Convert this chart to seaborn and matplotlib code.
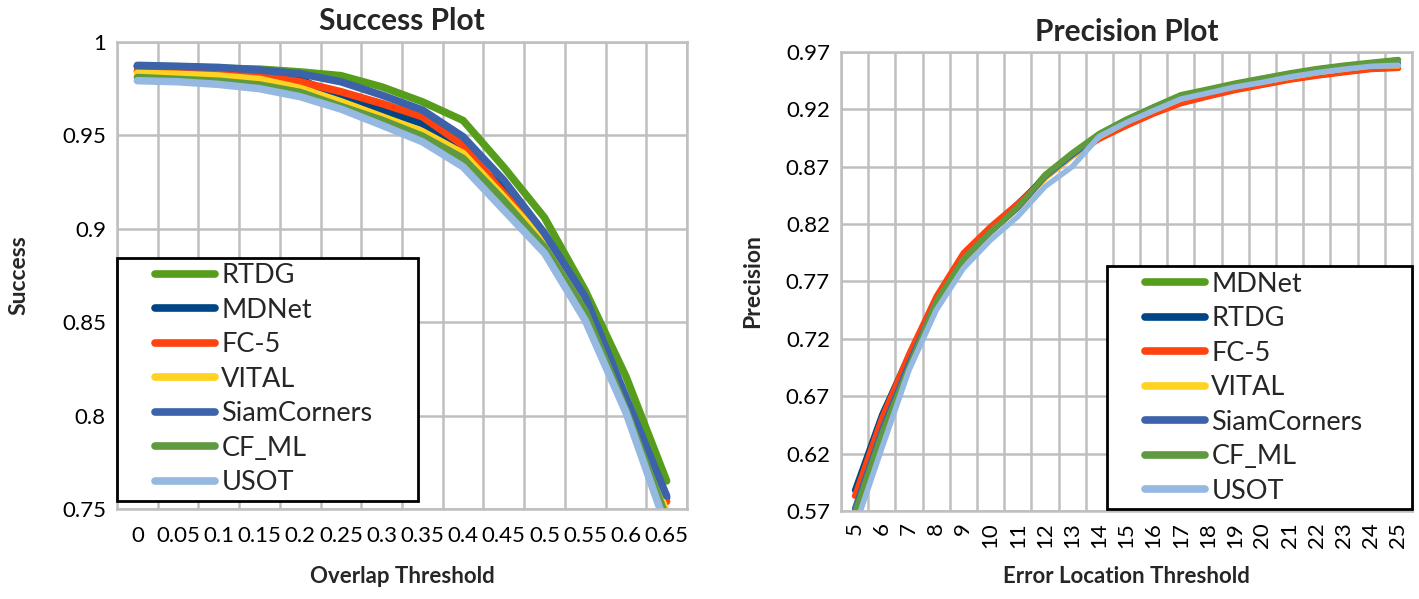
import numpy as np
import pandas as pd
import matplotlib
matplotlib.use('Agg')
import matplotlib.pyplot as plt
from matplotlib.lines import Line2D
from matplotlib.legend_handler import HandlerLine2D
import seaborn as sns

sns.set_theme(style='white')
plt.rcParams['font.family'] = ['Lato', 'DejaVu Sans']

# ---- Success plot data (overlap threshold) ----
overlap = ['0', '0.05', '0.1', '0.15', '0.2', '0.25', '0.3', '0.35', '0.4', '0.45', '0.5', '0.55', '0.6', '0.65']
succ_rtdg = [0.987, 0.9868, 0.986, 0.9855, 0.984, 0.982, 0.976, 0.968, 0.958, 0.933, 0.906, 0.867, 0.821, 0.765]
succ_mdnet = [0.987, 0.9865, 0.986, 0.984, 0.980, 0.970, 0.9636, 0.9564, 0.942, 0.921, 0.894, 0.860, 0.808, 0.756]
succ_fc5 = [0.9845, 0.984, 0.983, 0.982, 0.9787, 0.9734, 0.9671, 0.960, 0.9448, 0.919, 0.895, 0.861, 0.808, 0.754]
succ_vital = [0.9832, 0.9827, 0.9818, 0.980, 0.9752, 0.968, 0.960, 0.952, 0.9403, 0.917, 0.893, 0.858, 0.805, 0.748]
succ_siam = [0.9875, 0.987, 0.9864, 0.985, 0.983, 0.9787, 0.9716, 0.9636, 0.9493, 0.926, 0.8976, 0.8635, 0.810, 0.757]
succ_cfml = [0.981, 0.980, 0.979, 0.977, 0.973, 0.9655, 0.9582, 0.9496, 0.9377, 0.915, 0.890, 0.856, 0.803, 0.745]
succ_usot = [0.9793, 0.9787, 0.9773, 0.975, 0.9707, 0.9641, 0.9555, 0.9466, 0.9332, 0.910, 0.887, 0.851, 0.8017, 0.740]

# ---- Precision plot data (error location threshold) ----
err_thr = [5, 6, 7, 8, 9, 10, 11, 12, 13, 14, 15, 16, 17, 18, 19, 20, 21, 22, 23, 24, 25]
prec_mdnet = [0.566, 0.638, 0.697, 0.753, 0.790, 0.8135, 0.835, 0.863, 0.882, 0.899, 0.9115, 0.9223, 0.9327, 0.9377, 0.9429, 0.9473, 0.9517, 0.9555, 0.9585, 0.961, 0.9634]
prec_rtdg = [0.588, 0.654, 0.706, 0.755, 0.793, 0.817, 0.838, 0.861, 0.880, 0.895, 0.906, 0.9165, 0.9255, 0.9315, 0.937, 0.9415, 0.946, 0.9495, 0.9525, 0.9552, 0.9562]
prec_fc5 = [0.583, 0.651, 0.707, 0.757, 0.795, 0.818, 0.838, 0.860, 0.879, 0.894, 0.9055, 0.916, 0.925, 0.931, 0.9365, 0.941, 0.9455, 0.949, 0.952, 0.9548, 0.9558]
prec_vital = [0.570, 0.640, 0.698, 0.752, 0.789, 0.813, 0.834, 0.860, 0.879, 0.896, 0.909, 0.919, 0.929, 0.935, 0.940, 0.944, 0.948, 0.952, 0.955, 0.958, 0.958]
prec_siam = [0.572, 0.641, 0.699, 0.752, 0.789, 0.813, 0.834, 0.861, 0.880, 0.897, 0.910, 0.920, 0.930, 0.936, 0.941, 0.945, 0.949, 0.953, 0.956, 0.959, 0.960]
prec_cfml = [0.568, 0.6375, 0.6956, 0.752, 0.789, 0.813, 0.8347, 0.862, 0.8815, 0.898, 0.911, 0.922, 0.932, 0.937, 0.942, 0.947, 0.951, 0.955, 0.958, 0.9605, 0.963]
prec_usot = [0.555, 0.6247, 0.6928, 0.745, 0.7815, 0.8062, 0.8266, 0.8527, 0.870, 0.8965, 0.9085, 0.919, 0.929, 0.9342, 0.9395, 0.9435, 0.9482, 0.952, 0.955, 0.9575, 0.9584]

succ_names = ['RTDG', 'MDNet', 'FC-5', 'VITAL', 'SiamCorners', 'CF_ML', 'USOT']
succ_vals = [succ_rtdg, succ_mdnet, succ_fc5, succ_vital, succ_siam, succ_cfml, succ_usot]
succ_colors = ['#579D1C', '#004586', '#FF420E', '#FFD320', '#3C62AA', '#5F9A41', '#95B9E0']

prec_names = ['MDNet', 'RTDG', 'FC-5', 'VITAL', 'SiamCorners', 'CF_ML', 'USOT']
prec_vals = [prec_mdnet, prec_rtdg, prec_fc5, prec_vital, prec_siam, prec_cfml, prec_usot]
prec_colors = ['#579D1C', '#004586', '#FF420E', '#FFD320', '#3C62AA', '#5F9A41', '#95B9E0']

succ_yticks = [0.75, 0.8, 0.85, 0.9, 0.95, 1.0]
prec_yticks = [0.57, 0.62, 0.67, 0.72, 0.77, 0.82, 0.87, 0.92, 0.97]

W, H = 1419, 599
fig = plt.figure(figsize=(W / 100, H / 100), dpi=100)
ax1 = fig.add_axes([117 / W, (H - 509) / H, 570 / W, 467 / H])
ax2 = fig.add_axes([841 / W, (H - 511) / H, 571 / W, 459 / H])

grid_c = '#BFBFBF'

xpos = np.arange(len(overlap))
for name, vals, c in zip(succ_names, succ_vals, succ_colors):
    sns.lineplot(x=xpos, y=vals, ax=ax1, color=c, linewidth=5.4, label=name,
                 solid_capstyle='round', solid_joinstyle='round')

for name, vals, c in zip(prec_names, prec_vals, prec_colors):
    sns.lineplot(x=err_thr, y=vals, ax=ax2, color=c, linewidth=4.0, label=name,
                 solid_capstyle='round', solid_joinstyle='round')

def style_axes(ax, ncat, x0):
    ax.set_xlim(x0 - 0.5, x0 + ncat - 0.5)
    ax.set_xticks(np.arange(x0 - 0.5, x0 + ncat, 1.0), minor=True)
    ax.grid(False)
    ax.grid(True, which='minor', axis='x', color=grid_c, linewidth=1.8)
    ax.grid(True, which='major', axis='y', color=grid_c, linewidth=1.8)
    ax.tick_params(which='both', length=0, labelsize=16, colors='black')
    for s in ax.spines.values():
        s.set_color(grid_c)
        s.set_linewidth(1.8)
    ax.set_axisbelow(True)

style_axes(ax1, len(overlap), 0)
ax1.set_xticks(xpos)
ax1.set_xticklabels(overlap)
ax1.set_ylim(0.75, 1.0)
ax1.set_yticks(succ_yticks)
ax1.set_yticklabels([f'{v:g}' for v in succ_yticks])
ax1.tick_params(axis='x', pad=12)
ax1.tick_params(axis='y', pad=8)
ax1.set_title('Success Plot', fontsize=21.5, fontweight='bold', pad=9)
ax1.set_xlabel('Overlap Threshold', fontsize=16, fontweight='bold')
ax1.set_ylabel('Success', fontsize=16.5, fontweight='bold')
ax1.xaxis.set_label_coords(0.5, -57 / 467)
ax1.yaxis.set_label_coords(-88 / 570, 0.5)

style_axes(ax2, len(err_thr), err_thr[0])
ax2.set_xticks(err_thr)
ax2.set_xticklabels([str(v) for v in err_thr], rotation=90)
ax2.set_ylim(0.57, 0.97)
ax2.set_yticks(prec_yticks)
ax2.set_yticklabels([f'{v:.2f}' for v in prec_yticks])
ax2.tick_params(axis='x', pad=8)
ax2.tick_params(axis='y', pad=8)
ax2.set_title('Precision Plot', fontsize=21.5, fontweight='bold', pad=8)
ax2.set_xlabel('Error Location Threshold', fontsize=16, fontweight='bold')
ax2.set_ylabel('Precision', fontsize=16.5, fontweight='bold')
ax2.xaxis.set_label_coords(0.5, -55 / 459)
ax2.yaxis.set_label_coords(-78 / 571, 0.5)

leg_fs = 19.5
for ax, anchor in [(ax1, (0.0, 0.018, 301 / 570, 0.5)), (ax2, (266 / 571, 0.004, 305 / 571, 0.5))]:
    leg = ax.legend(loc='lower left', bbox_to_anchor=anchor, mode='expand', fontsize=leg_fs,
                    frameon=True, fancybox=False, handlelength=3.4, handletextpad=0.25,
                    labelspacing=0.35, borderpad=0.2, borderaxespad=0.0,
                    handler_map={Line2D: HandlerLine2D(xpad=1.2)})
    leg.get_frame().set_edgecolor('black')
    leg.get_frame().set_linewidth(2.0)
    leg.get_frame().set_alpha(1)
    for ln in leg.get_lines():
        ln.set_linewidth(5.5)
        ln.set_solid_capstyle('round')

fig.savefig('out.png', dpi=100)
